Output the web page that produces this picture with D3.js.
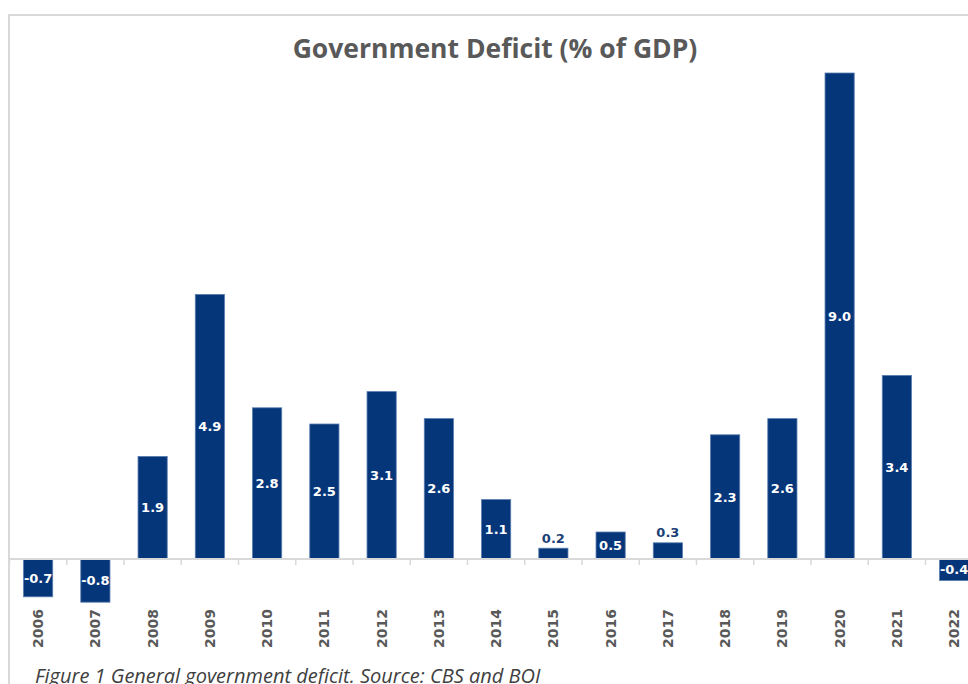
<!DOCTYPE html>
<html lang="en">
<head>
  <meta charset="UTF-8">
  <title>Government Deficit (% of GDP)</title>
  <script src="https://d3js.org/d3.v7.min.js"></script>
  <style>
    body { margin: 0; background: #fff; }
    svg { display: block; }
  </style>
</head>
<body>
  <div class="chart"></div>
  <script>
    const years = ['2006', '2007', '2008', '2009', '2010', '2011', '2012', '2013', '2014',
                   '2015', '2016', '2017', '2018', '2019', '2020', '2021', '2022'];
    const deficit = [-0.7, -0.8, 1.9, 4.9, 2.8, 2.5, 3.1, 2.6, 1.1,
                     0.2, 0.5, 0.3, 2.3, 2.6, 9.0, 3.4, -0.4];
    const data = years.map((y, i) => ({ year: y, value: deficit[i] }));

    const W = 968, H = 684;
    const navy = '#06367a';

    const svg = d3.select('.chart').append('svg')
      .attr('width', W).attr('height', H);

    // chart frame (runs off the right and bottom edge of the picture)
    svg.append('rect')
      .attr('x', 9).attr('y', 15).attr('width', W + 20).attr('height', H + 20)
      .attr('fill', 'none').attr('stroke', '#d9d9d9').attr('stroke-width', 2);

    svg.append('text').attr('x', 495).attr('y', 58).attr('text-anchor', 'middle')
      .attr('font-family', 'Open Sans, sans-serif').attr('font-weight', 'bold')
      .attr('font-size', 26.5).attr('fill', '#595959')
      .text('Government Deficit (% of GDP)');

    const x = d3.scaleBand().domain(years).range([9.5, 9.5 + 17 * 57.25])
      .paddingInner(0.49).paddingOuter(0.245);
    const y = d3.scaleLinear().domain([0, 9]).range([559, 73]);

    // bars
    svg.selectAll('.bar').data(data).join('rect').attr('class', 'bar')
      .attr('x', d => x(d.year))
      .attr('width', x.bandwidth())
      .attr('y', d => y(Math.max(0, d.value)))
      .attr('height', d => Math.abs(y(d.value) - y(0)))
      .attr('fill', navy).attr('stroke', '#5a7eb0').attr('stroke-width', 0.8);

    // category axis, ticks sit between the categories
    const gap = (x.step() - x.bandwidth()) / 2;
    const axis = svg.append('g').attr('transform', `translate(0, ${y(0)})`);
    axis.append('line').attr('x1', 9).attr('x2', W)
      .attr('stroke', '#d9d9d9').attr('stroke-width', 2);
    axis.selectAll('.tick').data(years).join('line').attr('class', 'tick')
      .attr('x1', d => x(d) - gap).attr('x2', d => x(d) - gap)
      .attr('y1', 0).attr('y2', 6)
      .attr('stroke', '#d9d9d9').attr('stroke-width', 1.5);

    svg.selectAll('.year').data(years).join('text').attr('class', 'year')
      .attr('transform', d => `translate(${x(d) + x.bandwidth() / 2 + 5}, 609) rotate(-90)`)
      .attr('text-anchor', 'end')
      .attr('font-family', 'DejaVu Sans, sans-serif').attr('font-weight', 'bold')
      .attr('font-size', 14).attr('fill', '#595959')
      .text(d => d);

    // value labels: centred in the bar, above it when the bar is too short
    const small = d => d.value > 0 && Math.abs(y(d.value) - y(0)) < 18;
    svg.selectAll('.lbl').data(data).join('text').attr('class', 'lbl')
      .attr('x', d => x(d.year) + x.bandwidth() / 2)
      .attr('y', d => small(d) ? y(d.value) - 10 : (y(d.value) + y(0)) / 2)
      .attr('dy', '0.36em')
      .attr('text-anchor', 'middle')
      .attr('font-family', 'DejaVu Sans, sans-serif').attr('font-weight', 'bold')
      .attr('font-size', 13)
      .attr('fill', d => small(d) ? '#1c3f77' : '#fff')
      .text(d => d3.format('.1f')(d.value).replace('\u2212', '-'));

    svg.append('text').attr('x', 35).attr('y', 683)
      .attr('font-family', 'Open Sans, sans-serif').attr('font-style', 'italic')
      .attr('font-size', 20).attr('fill', '#404040')
      .text('Figure 1 General government deficit. Source: CBS and BOI');
  </script>
</body>
</html>
